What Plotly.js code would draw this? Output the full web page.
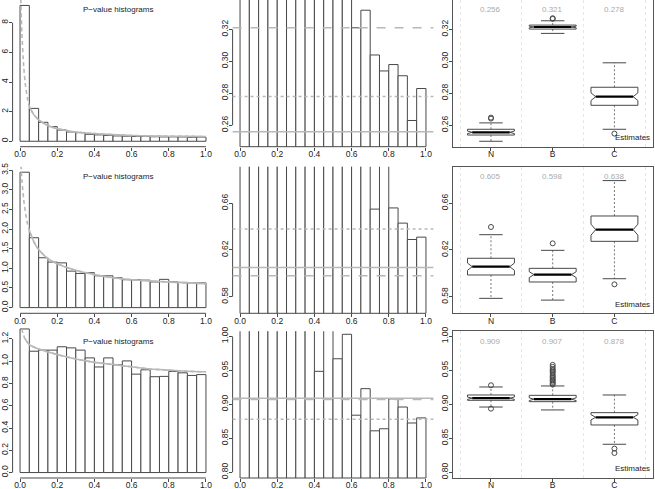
<!DOCTYPE html>
<html><head><meta charset="utf-8">
<script src="https://cdn.plot.ly/plotly-3.0.1.min.js"></script>
<style>html,body{margin:0;padding:0;background:#fff}#chart{width:655px;height:489px}</style>
</head><body><div id="chart"></div>
<script>
// ---------------- data ----------------
const binMid = [0.025,0.075,0.125,0.175,0.225,0.275,0.325,0.375,0.425,0.475,0.525,0.575,0.625,0.675,0.725,0.775,0.825,0.875,0.925,0.975];
const binWidth = 0.05;
const histRow1 = [9.17,2.22,1.28,0.99,0.76,0.63,0.58,0.47,0.43,0.40,0.36,0.345,0.321,0.332,0.304,0.294,0.298,0.291,0.263,0.283];
const histRow2 = [3.45,1.78,1.27,1.16,1.14,0.93,0.87,0.89,0.81,0.81,0.76,0.71,0.71,0.70,0.655,0.72,0.656,0.643,0.629,0.631];
const histRow3 = [1.29,1.09,1.10,1.10,1.13,1.12,1.10,1.03,0.9485,1.03,0.967,1.003,0.884,0.923,0.861,0.864,0.908,0.896,0.8725,0.880];

const curveX1 = [0.004,0.01,0.02,0.03,0.04,0.05,0.075,0.1,0.15,0.2,0.3,0.4,0.5,0.6,0.7,0.8,0.9,1.0];
const curveY1 = [9.6,7.3,5.0,3.7,2.9,2.34,1.78,1.44,1.06,0.85,0.63,0.52,0.45,0.39,0.36,0.34,0.33,0.32];
const curveX2 = [0.005,0.01,0.02,0.03,0.04,0.05,0.075,0.1,0.15,0.2,0.3,0.4,0.5,0.6,0.7,0.8,0.9,1.0];
const curveY2 = [3.63,3.25,2.74,2.40,2.14,1.97,1.67,1.48,1.25,1.12,0.95,0.84,0.76,0.71,0.68,0.65,0.63,0.61];
const curveX3 = [0.009,0.018,0.027,0.05,0.1,0.2,0.3,0.4,0.5,0.6,0.7,0.8,0.9,1.0];
const curveY3 = [1.29,1.24,1.20,1.15,1.11,1.06,1.02,0.99,0.97,0.95,0.93,0.92,0.91,0.905];
const solidFrom = [0.05,0.05,0.027];

const methods = ['N','B','C'];
const estRow1 = [0.256,0.321,0.278];
const estRow2 = [0.605,0.598,0.638];
const estRow3 = [0.909,0.907,0.878];

const q1Row1 = [0.2539,0.3202,0.2725], medRow1 = [0.2556,0.3215,0.2779], q3Row1 = [0.2575,0.3227,0.2838];
const loRow1 = [0.2500,0.3175,0.2575], hiRow1 = [0.2615,0.3254,0.2991], notchRow1 = [0.0008,0.0005,0.0024];
const outRow1 = [[0.2648,0.2642],[0.3270,0.3266],[0.2548]];

const q1Row2 = [0.5986,0.5926,0.6274], medRow2 = [0.6057,0.5989,0.6374], q3Row2 = [0.6129,0.6043,0.6491];
const loRow2 = [0.5786,0.5771,0.5954], hiRow2 = [0.6331,0.6197,0.6794], notchRow2 = [0.0031,0.0025,0.0047];
const outRow2 = [[0.6397],[0.6257],[0.5906]];

const q1Row3 = [0.9059,0.9039,0.8696], medRow3 = [0.9090,0.9075,0.8809], q3Row3 = [0.9137,0.9132,0.8877];
const loRow3 = [0.8960,0.8917,0.8412], hiRow3 = [0.9255,0.9270,0.9137], notchRow3 = [0.0017,0.0020,0.0039];
const outRow3 = [[0.928,0.8936],[0.958,0.955,0.952,0.950,0.948,0.946,0.943,0.941,0.939,0.937,0.935,0.933,0.931,0.929],[0.8348,0.8284]];

const xTickVals = [0,0.2,0.4,0.6,0.8,1.0];
const xTickText = ['0.0','0.2','0.4','0.6','0.8','1.0'];
const yTickHist = [[0,2,4,6,8],[0,0.5,1,1.5,2,2.5,3,3.5],[0,0.2,0.4,0.6,0.8,1.0,1.2]];
const yTextHist = [['0','2','4','6','8'],['0.0','0.5','1.0','1.5','2.0','2.5','3.0','3.5'],['0.0','0.2','0.4','0.6','0.8','1.0','1.2']];
const yTickEst = [[0.26,0.28,0.30,0.32],[0.58,0.62,0.66],[0.80,0.85,0.90,0.95,1.00]];
const yTextEst = [['0.26','0.28','0.30','0.32'],['0.58','0.62','0.66'],['0.80','0.85','0.90','0.95','1.00']];

// --------------- layout geometry ---------------
const W = 655, H = 489;
const colL = [12.6, 232.6, 452.7], colR = [213.4, 433.4, 652.7];
const rowT = [0, 166.7, 331.3], rowB = [146.7, 313.3, 478];
// extra headroom (px) above histogram panels (no frame there) so tall first bins are not clipped
const histExtraTop = [0, 0, 8];
const yRangeHist = [[-0.367, 9.537],[-0.145, 3.59],[-0.049, 1.269]];
const yRangeEst = [[0.2466, 0.3384],[0.5658, 0.6913],[0.7916, 1.0074]];
const FONT = 'Liberation Sans, Arial, Helvetica, sans-serif';
const DARK = '#484848', GREY = '#b8b8b8';

const hists = [histRow1, histRow2, histRow3];
const curvesX = [curveX1, curveX2, curveX3], curvesY = [curveY1, curveY2, curveY3];
const ests = [estRow1, estRow2, estRow3];
const boxes = [
  {q1:q1Row1,med:medRow1,q3:q3Row1,lo:loRow1,hi:hiRow1,notch:notchRow1,out:outRow1},
  {q1:q1Row2,med:medRow2,q3:q3Row2,lo:loRow2,hi:hiRow2,notch:notchRow2,out:outRow2},
  {q1:q1Row3,med:medRow3,q3:q3Row3,lo:loRow3,hi:hiRow3,notch:notchRow3,out:outRow3}
];

const traces = [], shapes = [], annotations = [];
const layout = {
  width: W, height: H, margin: {l:0,r:0,t:0,b:0}, showlegend: false,
  paper_bgcolor: '#fff', plot_bgcolor: '#fff',
  font: {family: FONT, size: 8.5, color: '#222'}
};
const id = (p) => p === 1 ? '' : String(p);

for (let r = 0; r < 3; r++) {
  for (let c = 0; c < 3; c++) {
    const p = r*3 + c + 1, s = id(p);
    const xa = 'x' + s, ya = 'y' + s;
    const xaxis = {
      domain: [colL[c]/W, colR[c]/W], anchor: ya, showgrid: false, zeroline: false,
      ticks: 'outside', ticklen: 3, tickwidth: 1, tickcolor: DARK, ticklabelstandoff: -4,
      tickfont: {family: FONT, size: 8.5, color: '#222'}, fixedrange: true
    };
    const yaxis = {
      domain: [1 - rowB[r]/H, 1 - rowT[r]/H], anchor: xa, showgrid: false, zeroline: false,
      ticks: 'outside', ticklen: 3, tickwidth: 1, tickcolor: DARK, tickangle: -90, ticklabelstandoff: -3,
      tickfont: {family: FONT, size: 8.5, color: '#222'}, fixedrange: true
    };
    if (c < 2) {
      xaxis.range = [-0.04, 1.04];
      xaxis.tickmode = 'array'; xaxis.tickvals = xTickVals; xaxis.ticktext = xTickText;
      xaxis.showline = false;
      yaxis.showline = false;
      yaxis.tickmode = 'array';
      if (c === 0) {
        const rg = yRangeHist[r].slice();
        const ppu = (rowB[r] - rowT[r]) / (rg[1] - rg[0]);
        rg[1] += histExtraTop[r] / ppu;
        yaxis.domain = [1 - rowB[r]/H, 1 - (rowT[r] - histExtraTop[r])/H];
        yaxis.range = rg; yaxis.tickvals = yTickHist[r]; yaxis.ticktext = yTextHist[r];
      } else {
        yaxis.range = yRangeEst[r]; yaxis.tickvals = yTickEst[r]; yaxis.ticktext = yTextEst[r];
      }
      // R style axis lines (first to last tick)
      shapes.push({type:'line', xref: xa + ' domain', yref: ya, x0:0, x1:0,
        y0: yaxis.tickvals[0], y1: yaxis.tickvals[yaxis.tickvals.length-1], line:{color:DARK,width:1}});
      shapes.push({type:'line', xref: xa, yref: ya + ' domain', y0:0, y1:0,
        x0: xTickVals[0], x1: xTickVals[xTickVals.length-1], line:{color:DARK,width:1}});
      // histogram bars
      traces.push({type:'bar', x: binMid, y: hists[r], width: binWidth, xaxis: xa, yaxis: ya,
        marker: {color: '#fff', line: {color: DARK, width: 1}}, hoverinfo: 'skip'});
      if (c === 0) {
        traces.push({type:'scatter', mode:'lines', x: curvesX[r], y: curvesY[r], xaxis: xa, yaxis: ya,
          line: {color: GREY, width: 1.6, dash: '4px,3px', shape: 'spline', smoothing: 0.6}, hoverinfo:'skip'});
        const sx = [], sy = [];
        curvesX[r].forEach((v, i) => { if (v >= solidFrom[r]) { sx.push(v); sy.push(curvesY[r][i]); } });
        traces.push({type:'scatter', mode:'lines', x: sx, y: sy, xaxis: xa, yaxis: ya,
          line: {color: GREY, width: 1.6, shape: 'spline', smoothing: 0.6}, hoverinfo:'skip'});
        annotations.push({xref:'paper', yref:'paper', x: 118/W, y: 1 - (rowT[r] + 10)/H,
          text: 'P\u2212value histograms', showarrow: false, xanchor:'center', yanchor:'middle',
          font: {family: FONT, size: 8, color: '#222'}});
      } else {
        const dashes = ['solid', 'dash', 'dot'];
        ests[r].forEach((v, i) => {
          shapes.push({type:'line', xref: xa + ' domain', yref: ya, x0: 0, x1: 1, y0: v, y1: v,
            line: {color: GREY, width: 1.6, dash: dashes[i]}, layer: 'above'});
        });
      }
    } else {
      xaxis.range = [0.38, 3.62];
      xaxis.tickmode = 'array'; xaxis.tickvals = [1,2,3]; xaxis.ticktext = methods;
      xaxis.showline = true; xaxis.mirror = true; xaxis.linecolor = '#555'; xaxis.linewidth = 1;
      xaxis.minor = {tick0: 0.5, dtick: 1, showgrid: true, gridcolor: '#e6e6e6', griddash: 'dot', gridwidth: 1, ticks: ''};
      yaxis.range = yRangeEst[r]; yaxis.tickmode = 'array'; yaxis.tickvals = yTickEst[r]; yaxis.ticktext = yTextEst[r];
      yaxis.showline = true; yaxis.mirror = true; yaxis.linecolor = '#555'; yaxis.linewidth = 1;
      const b = boxes[r];
      const w = 0.38, f = 0.8, sw = 0.5;
      const bx = [], by = [], mx = [], my = [], wx = [], wy = [], tx = [], ty = [], ox = [], oy = [];
      methods.forEach((m, i) => {
        const g = i + 1;
        const nl = b.med[i] - b.notch[i], nh = b.med[i] + b.notch[i];
        const xs = [g-w, g+w, g+w, g+w*f, g+w, g+w, g-w, g-w, g-w*f, g-w, g-w];
        const ys = [b.q1[i], b.q1[i], nl, b.med[i], nh, b.q3[i], b.q3[i], nh, b.med[i], nl, b.q1[i]];
        bx.push(...xs, null); by.push(...ys, null);
        mx.push(g - w*f, g + w*f, null); my.push(b.med[i], b.med[i], null);
        wx.push(g, g, null, g, g, null); wy.push(b.q3[i], b.hi[i], null, b.q1[i], b.lo[i], null);
        tx.push(g - w*sw, g + w*sw, null, g - w*sw, g + w*sw, null);
        ty.push(b.hi[i], b.hi[i], null, b.lo[i], b.lo[i], null);
        b.out[i].forEach(v => { ox.push(g); oy.push(v); });
        annotations.push({xref: xa, yref: ya + ' domain', x: g, y: 1 - 10/146.7,
          text: ests[r][i].toFixed(3), showarrow: false, xanchor:'center', yanchor:'middle',
          font: {family: FONT, size: 8, color: '#aaaaaa'}});
      });
      traces.push({type:'scatter', mode:'lines', x: wx, y: wy, xaxis: xa, yaxis: ya,
        line: {color: '#777', width: 1, dash: '2px,2px'}, hoverinfo:'skip'});
      traces.push({type:'scatter', mode:'lines', x: tx, y: ty, xaxis: xa, yaxis: ya,
        line: {color: DARK, width: 1}, hoverinfo:'skip'});
      traces.push({type:'scatter', mode:'lines', x: bx, y: by, xaxis: xa, yaxis: ya,
        line: {color: DARK, width: 1}, hoverinfo:'skip'});
      traces.push({type:'scatter', mode:'lines', x: mx, y: my, xaxis: xa, yaxis: ya,
        line: {color: '#000', width: 2.2}, hoverinfo:'skip'});
      traces.push({type:'scatter', mode:'markers', x: ox, y: oy, xaxis: xa, yaxis: ya,
        marker: {symbol: 'circle-open', size: 5, color: DARK, line: {width: 1, color: DARK}}, hoverinfo:'skip'});
      annotations.push({xref: xa + ' domain', yref: ya + ' domain', x: 1, y: 9.3/146.7,
        text: 'Estimates', showarrow: false, xanchor:'right', yanchor:'middle', xshift: -1,
        font: {family: FONT, size: 8, color: '#222'}});
    }
    layout['xaxis' + s] = xaxis;
    layout['yaxis' + s] = yaxis;
  }
}
layout.shapes = shapes;
layout.annotations = annotations;
layout.bargap = 0;
Plotly.newPlot('chart', traces, layout, {staticPlot: true, displayModeBar: false});
</script>
</body></html>
